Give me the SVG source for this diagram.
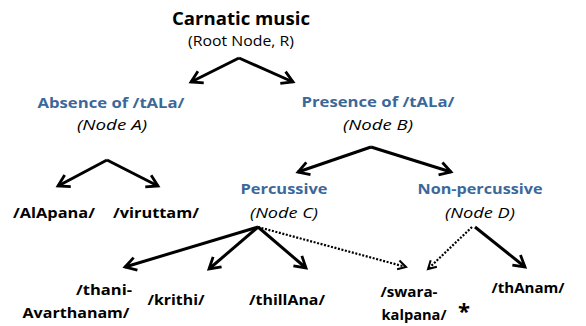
<svg xmlns="http://www.w3.org/2000/svg" width="586" height="326" viewBox="0 0 586 326">
<style>
text{font-family:"Open Sans","Liberation Sans",sans-serif;text-anchor:middle}
.b{font-weight:bold;fill:#000}
.t{font-weight:bold;font-size:18px}
.blue{font-weight:bold;fill:#3C6899;font-size:15px}
.i{font-style:italic;font-size:14px;fill:#000}
.r{font-size:14px;fill:#000}
.leaf{font-weight:bold;font-size:15px;fill:#000}
.s{stroke:#000;stroke-width:3;fill:none}
.d{stroke:#000;stroke-width:2.2;fill:none;stroke-dasharray:2 1.6}
</style>
<defs>
<marker id="ah" markerUnits="userSpaceOnUse" markerWidth="16" markerHeight="16" viewBox="-13 -8 16 16" refX="0" refY="0" orient="auto">
<path d="M-11,-6.5 L0,0 L-11,6.5" fill="none" stroke="#000" stroke-width="2.8"/>
</marker>
<marker id="ahd" markerUnits="userSpaceOnUse" markerWidth="14" markerHeight="14" viewBox="-11 -7 14 14" refX="0" refY="0" orient="auto">
<path d="M-8,-4.5 L0,0 L-8,4.5" fill="none" stroke="#000" stroke-width="2"/>
</marker>
</defs>
<g id="connectors">
<path class="s" d="M239,58 L191,82" marker-end="url(#ah)"/>
<path class="s" d="M239,58 L293,82" marker-end="url(#ah)"/>
<path class="s" d="M107,160 L58,186" marker-end="url(#ah)"/>
<path class="s" d="M107,160 L158,186" marker-end="url(#ah)"/>
<path class="s" d="M371,147 L298,172" marker-end="url(#ah)"/>
<path class="s" d="M371,147 L451,172" marker-end="url(#ah)"/>
<path class="s" d="M258,227 L125,267" marker-end="url(#ah)"/>
<path class="s" d="M258,227 L209,269" marker-end="url(#ah)"/>
<path class="s" d="M258,227 L306,268" marker-end="url(#ah)"/>
<path class="d" d="M258,227 L406,267" marker-end="url(#ahd)"/>
<path class="d" d="M472,227 L428,269" marker-end="url(#ahd)"/>
<path class="s" d="M475,227 L525,267" marker-end="url(#ah)"/>
</g>
<g id="R">
<text class="t" x="241" y="25" textLength="138" lengthAdjust="spacingAndGlyphs">Carnatic music</text>
<text class="r" x="241" y="46" textLength="106" lengthAdjust="spacingAndGlyphs">(Root Node, R)</text>
</g>
<g id="A">
<text class="blue" x="111" y="108" textLength="147" lengthAdjust="spacingAndGlyphs">Absence of /tALa/</text>
<text class="i" x="112" y="130" textLength="70" lengthAdjust="spacingAndGlyphs">(Node A)</text>
</g>
<g id="B">
<text class="blue" x="378" y="107" textLength="153" lengthAdjust="spacingAndGlyphs">Presence of /tALa/</text>
<text class="i" x="378" y="130" textLength="70" lengthAdjust="spacingAndGlyphs">(Node B)</text>
</g>
<g id="C">
<text class="blue" x="284" y="194" textLength="87" lengthAdjust="spacingAndGlyphs">Percussive</text>
<text class="i" x="284" y="218" textLength="68" lengthAdjust="spacingAndGlyphs">(Node C)</text>
</g>
<g id="D">
<text class="blue" x="480" y="194" textLength="125" lengthAdjust="spacingAndGlyphs">Non-percussive</text>
<text class="i" x="480" y="218" textLength="70" lengthAdjust="spacingAndGlyphs">(Node D)</text>
</g>
<g id="alapana">
<text class="leaf" x="54" y="218" textLength="82" lengthAdjust="spacingAndGlyphs">/AlApana/</text>
</g>
<g id="viruttam">
<text class="leaf" x="156" y="218" textLength="86" lengthAdjust="spacingAndGlyphs">/viruttam/</text>
</g>
<g id="thani">
<text class="leaf" x="104" y="295" textLength="56" lengthAdjust="spacingAndGlyphs">/thani-</text>
<text class="leaf" x="76" y="318" textLength="107" lengthAdjust="spacingAndGlyphs">Avarthanam/</text>
</g>
<g id="krithi">
<text class="leaf" x="176" y="305" textLength="57" lengthAdjust="spacingAndGlyphs">/krithi/</text>
</g>
<g id="thillana">
<text class="leaf" x="287" y="305" textLength="76" lengthAdjust="spacingAndGlyphs">/thillAna/</text>
</g>
<g id="swara">
<text class="leaf" x="409" y="297" textLength="57" lengthAdjust="spacingAndGlyphs">/swara-</text>
<text class="leaf" x="414" y="320" textLength="65" lengthAdjust="spacingAndGlyphs">kalpana/</text>
<text class="b" x="464" y="319" style="font-size:22px">*</text>
</g>
<g id="thanam">
<text class="leaf" x="528" y="293" textLength="73" lengthAdjust="spacingAndGlyphs">/thAnam/</text>
</g>
</svg>
